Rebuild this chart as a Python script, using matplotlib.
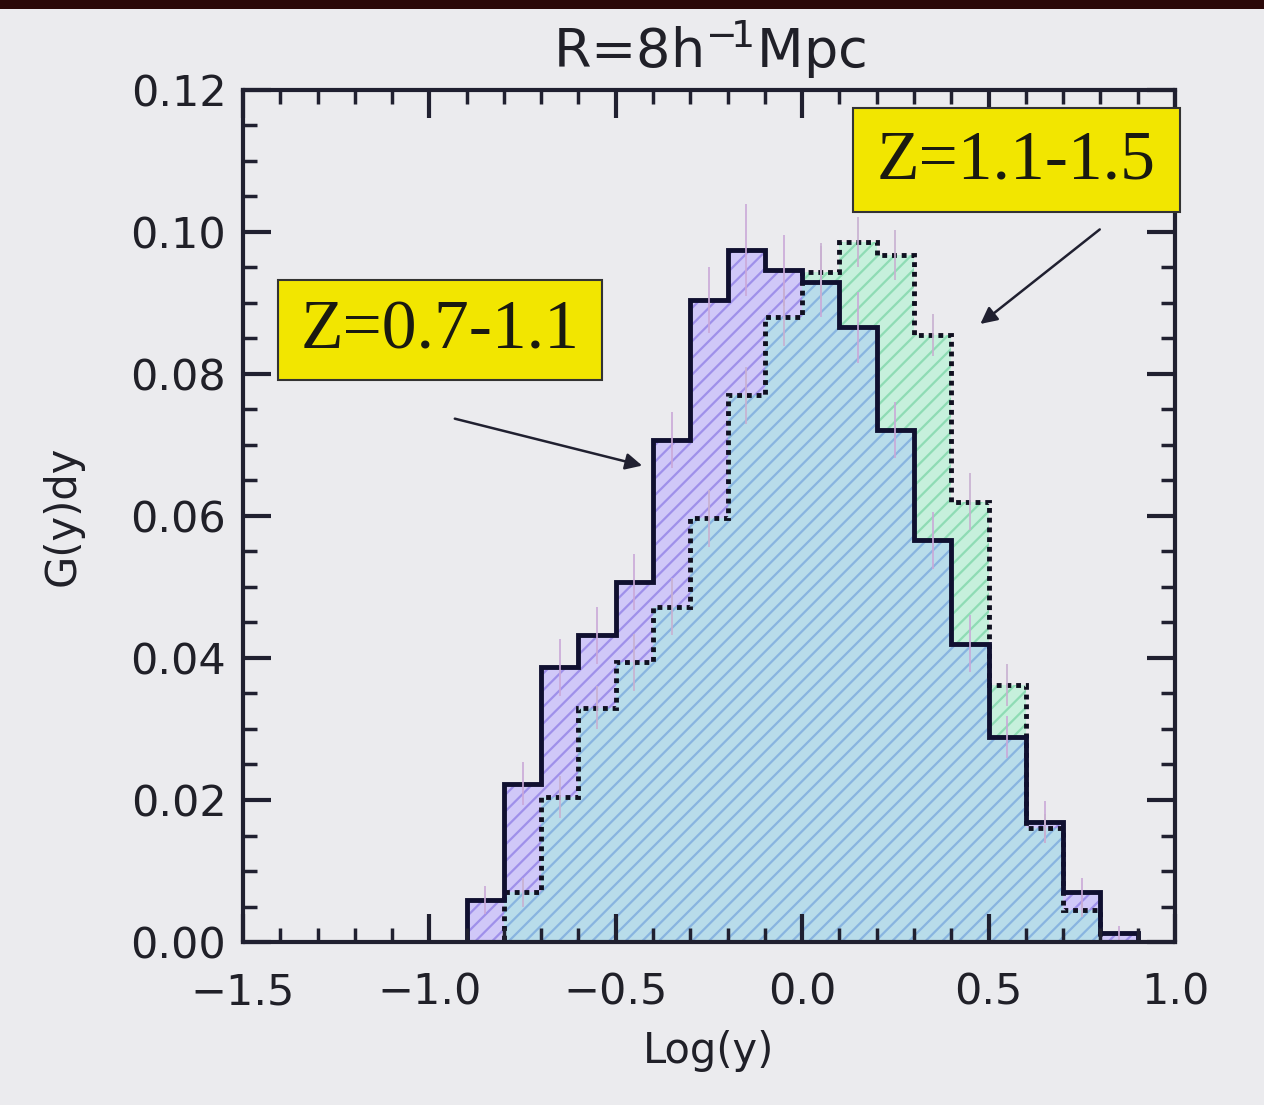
import numpy as np
import matplotlib
matplotlib.use('Agg')
import matplotlib.pyplot as plt
from matplotlib.patches import Rectangle
from matplotlib.ticker import MultipleLocator

# bin edges of Log(y), width 0.1
edges = np.round(np.arange(-0.9, 1.0001, 0.1), 2)

# Z=0.7-1.1 (solid outline)
low_z = [0.0059, 0.0223, 0.0387, 0.0432, 0.0507, 0.0707, 0.0904, 0.0975, 0.0946,
         0.0930, 0.0866, 0.0721, 0.0566, 0.0420, 0.0289, 0.0169, 0.0070, 0.0013, 0.0]
low_err = [0.002, 0.003, 0.004, 0.004, 0.004, 0.004, 0.0047, 0.0065, 0.005,
           0.005, 0.005, 0.004, 0.004, 0.004, 0.003, 0.003, 0.002, 0.001, 0.0]

# Z=1.1-1.5 (dotted outline)
high_z = [0.0, 0.0070, 0.0204, 0.0330, 0.0394, 0.0472, 0.0597, 0.0770, 0.0880,
          0.0944, 0.0986, 0.0968, 0.0855, 0.0620, 0.0362, 0.0160, 0.0045, 0.0, 0.0]
high_err = [0.0, 0.002, 0.003, 0.003, 0.004, 0.004, 0.004, 0.004, 0.004,
            0.004, 0.0035, 0.0035, 0.003, 0.004, 0.003, 0.002, 0.001, 0.0, 0.0]

low_z = np.array(low_z)
high_z = np.array(high_z)
centers = (edges[:-1] + edges[1:]) / 2

bg = '#ebebee'
ink = '#202028'
plt.rcParams['font.family'] = ['DejaVu Sans']
plt.rcParams['hatch.linewidth'] = 1.6

fig = plt.figure(figsize=(12.64, 11.05), dpi=100, facecolor=bg)
fig.patches.append(Rectangle((0, 0.992), 1, 0.008, transform=fig.transFigure,
                             facecolor='#2a0808', edgecolor='none'))
ax = fig.add_axes([0.1922, 0.1475, 0.7374, 0.7711])
ax.set_facecolor(bg)

# fills
ax.stairs(low_z, edges, fill=True, facecolor='#d0c8f8', edgecolor='#9f90ea',
          hatch='//', linewidth=0)
ax.stairs(high_z, edges, fill=True, facecolor='#c6f0dc', edgecolor='#8edcb4',
          hatch='//', linewidth=0)
ax.stairs(np.minimum(low_z, high_z), edges, fill=True, facecolor='#b8dcea',
          edgecolor='#88b4e0', hatch='//', linewidth=0)

# error bars
ax.vlines(centers, low_z - low_err, low_z + low_err, color='#caa8d8', lw=1.2)
ax.vlines(centers, high_z - high_err, high_z + high_err, color='#c8b0d0', lw=1.2)

# outlines
ax.stairs(high_z, edges, color='#101020', linestyle=(0, (1, 1)), linewidth=3.5)
ax.stairs(low_z, edges, color='#101030', linewidth=3.5)

ax.set_xlim(-1.5, 1.0)
ax.set_ylim(0, 0.12)
ax.xaxis.set_major_locator(MultipleLocator(0.5))
ax.xaxis.set_minor_locator(MultipleLocator(0.1))
ax.yaxis.set_major_locator(MultipleLocator(0.02))
ax.yaxis.set_minor_locator(MultipleLocator(0.005))
ax.tick_params(which='both', direction='in', top=True, right=True,
               color='#202030', labelsize=31, labelcolor=ink)
ax.tick_params(which='major', length=20, width=3)
ax.tick_params(axis='x', which='major', pad=21)
ax.tick_params(axis='y', which='major', pad=12)
ax.tick_params(which='minor', length=10, width=2.5)
ax.set_xticks([-1.5, -1.0, -0.5, 0.0, 0.5, 1.0])
ax.set_xticklabels(['\u22121.5', '\u22121.0', '\u22120.5', '0.0', '0.5', '1.0'])
ax.set_yticklabels(['%.2f' % v for v in ax.get_yticks()])
for s in ax.spines.values():
    s.set_linewidth(3)
    s.set_color('#202030')

ax.set_xlabel('Log(y)', fontsize=30, color=ink, labelpad=12)
ax.set_ylabel('G(y)dy', fontsize=30, color=ink, labelpad=34)
ax.set_title('R=8h$^{\u2212\\!1}$Mpc', fontsize=39, color=ink, pad=16)

# labels in yellow boxes
ax.add_patch(Rectangle((-1.406, 0.0792), 0.869, 0.0140, facecolor='#f2e600',
                       edgecolor='#333333', linewidth=1.5, clip_on=False, zorder=5))
ax.text(-0.9715, 0.0860, 'Z=0.7-1.1', family='Liberation Serif', fontsize=50,
        ha='center', va='center', color='#1a1a10', zorder=6)
ax.add_patch(Rectangle((0.136, 0.1028), 0.877, 0.0147, facecolor='#f2e600',
                       edgecolor='#333333', linewidth=1.5, clip_on=False, zorder=5))
ax.text(0.5745, 0.1099, 'Z=1.1-1.5', family='Liberation Serif', fontsize=50,
        ha='center', va='center', color='#1a1a10', zorder=6)

ax.annotate('', xy=(-0.422, 0.0670), xytext=(-0.939, 0.0738),
            arrowprops=dict(arrowstyle='-|>', color='#202030', lw=1.8,
                            mutation_scale=25))
ax.annotate('', xy=(0.472, 0.0868), xytext=(0.804, 0.1006),
            arrowprops=dict(arrowstyle='-|>', color='#202030', lw=1.8,
                            mutation_scale=25))

fig.savefig('out.png', dpi=100, facecolor=bg)
